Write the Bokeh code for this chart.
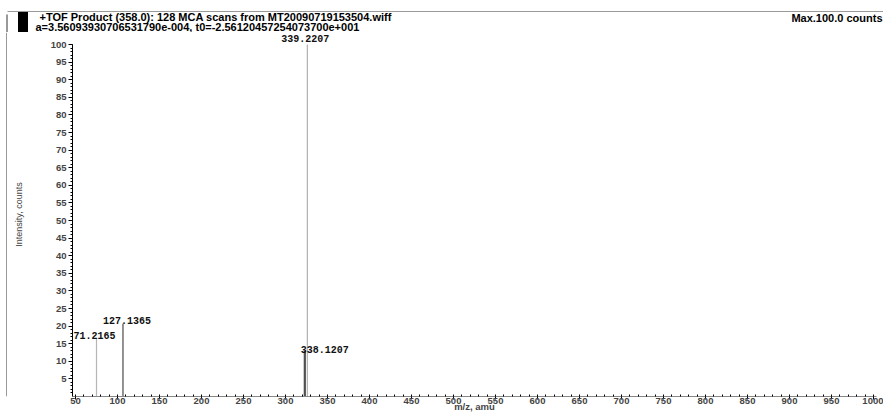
from bokeh.plotting import figure
from bokeh.models import Range1d, FixedTicker, ColumnDataSource
from bokeh.layouts import column, row
from bokeh.core.properties import value
from bokeh.embed import file_html
from bokeh.resources import INLINE

# ---- data ----
peak_mz = [75.0, 106.5, 323.0, 326.0]          # drawn position on the m/z axis
peak_intensity = [16.5, 20.7, 13.0, 100.0]
peak_labels = ["71.2165", "127.1365", "338.1207", "339.2207"]
peak_colors = ["#b5b5b5", "#6e6e6e", "#505050", "#b0b0b0"]
peak_widths = [1.2, 1.5, 2.2, 1.2]
label_dx = [-2, 4, 20, -2]          # pixel offsets of the peak annotations
label_dy = [1, 0, 2, -3]

x_ticks = list(range(50, 1001, 50))
y_ticks = list(range(5, 101, 5))
title_line1 = "+TOF Product (358.0): 128 MCA scans from MT20090719153504.wiff"
title_line2 = "a=3.56093930706531790e-004, t0=-2.56120457254073700e+001"
max_text = "Max.100.0 counts"
x_label = "m/z, amu"
y_label = "Intensity, counts"

W, H = 883, 414
HEAD = 32            # header height
STRIP = 7            # left strip width
FL, FR, FB = 72, 876, 396   # frame left/right/bottom (page pixels)
font = "Liberation Sans"

def bare(fig):
    fig.outline_line_color = None
    fig.xgrid.visible = False
    fig.ygrid.visible = False
    fig.background_fill_color = "white"
    fig.border_fill_color = "white"
    return fig

# ---------------- header ----------------
head = bare(figure(width=W, height=HEAD, output_backend="svg", toolbar_location=None,
                   x_range=Range1d(0, W), y_range=Range1d(HEAD, 0),
                   x_axis_location=None, y_axis_location=None,
                   min_border=0))
head.quad(left=[18], right=[27], top=[11.5], bottom=[HEAD], color="black")
head.segment(x0=[7], y0=[11], x1=[W], y1=[11], line_color="#9a9a9a", line_width=1.2)
head.segment(x0=[6.5], y0=[14], x1=[6.5], y1=[HEAD], line_color="#777777", line_width=1.5)
head.text(x=[39, 35], y=[16, 26.5], text=[title_line1, title_line2],
          text_font=value(font), text_font_style="bold", text_font_size="11px",
          text_baseline="middle", text_align="left", text_color="black")
head.text(x=[882], y=[17], text=[max_text],
          text_font=value(font), text_font_style="bold", text_font_size="11px",
          text_baseline="middle", text_align="right", text_color="black")

# ---------------- left strip ----------------
MH = H - HEAD
strip = bare(figure(width=STRIP, height=MH, output_backend="svg", toolbar_location=None,
                    x_range=Range1d(0, STRIP), y_range=Range1d(MH, 0),
                    x_axis_location=None, y_axis_location=None, min_border=0))
strip.segment(x0=[6.5], y0=[0], x1=[6.5], y1=[MH], line_color="#777777", line_width=1.5)

# ---------------- main plot ----------------
frame_h = FB - HEAD
px_per_unit = 3.52
y_end = frame_h / px_per_unit
x0 = 50 - (75 - FL) / 0.84
x1 = 1000 + (FR - 873) / 0.84
p = bare(figure(width=W - STRIP, height=MH, output_backend="svg", toolbar_location=None,
                x_range=Range1d(x0, x1), y_range=Range1d(0, y_end),
                min_border_left=FL - STRIP, min_border_right=W - FR, min_border_top=0,
                min_border_bottom=H - FB))

ya = p.yaxis[0]
ya.ticker = FixedTicker(ticks=y_ticks, minor_ticks=list(range(1, 101)))
ya.bounds = (0, 100)
ya.axis_line_color = "black"
ya.major_tick_out = 4
ya.major_tick_in = 0
ya.minor_tick_out = 2
ya.minor_tick_in = 0
ya.major_label_text_font = font
ya.major_label_text_font_style = "bold"
ya.major_label_text_font_size = "9.5px"
ya.major_label_standoff = 2
ya.axis_label = y_label
ya.axis_label_text_font = font
ya.axis_label_text_font_style = "normal"
ya.axis_label_text_font_size = "9px"
ya.axis_label_standoff = 24

xa = p.xaxis[0]
xa.ticker = FixedTicker(ticks=x_ticks, minor_ticks=list(range(50, 1001, 10)))
xa.axis_line_color = "#888888"
xa.major_tick_out = 3
xa.major_tick_in = 0
xa.minor_tick_out = 0
xa.minor_tick_in = 2
xa.major_label_text_font = font
xa.major_label_text_font_style = "bold"
xa.major_label_text_font_size = "9.5px"
xa.major_label_standoff = -2
xa.axis_label = x_label
xa.axis_label_text_font = font
xa.axis_label_text_font_style = "bold"
xa.axis_label_text_font_size = "9.5px"
xa.axis_label_standoff = -6

src = ColumnDataSource(dict(x=peak_mz, y=peak_intensity, y0=[0] * len(peak_mz),
                            lab=peak_labels, c=peak_colors, w=peak_widths,
                            dx=label_dx, dy=label_dy))
p.segment(x0="x", y0="y0", x1="x", y1="y", line_color="c", line_width="w", source=src)
p.text(x="x", y="y", text="lab", x_offset="dx", y_offset="dy", source=src,
       text_font=value("Liberation Mono"), text_font_style="bold", text_font_size="10px",
       text_align="center", text_baseline="bottom", text_color="#111111")

layout = column(head, row(strip, p, spacing=0), spacing=0)
open("out.html", "w").write(file_html(layout, INLINE))
